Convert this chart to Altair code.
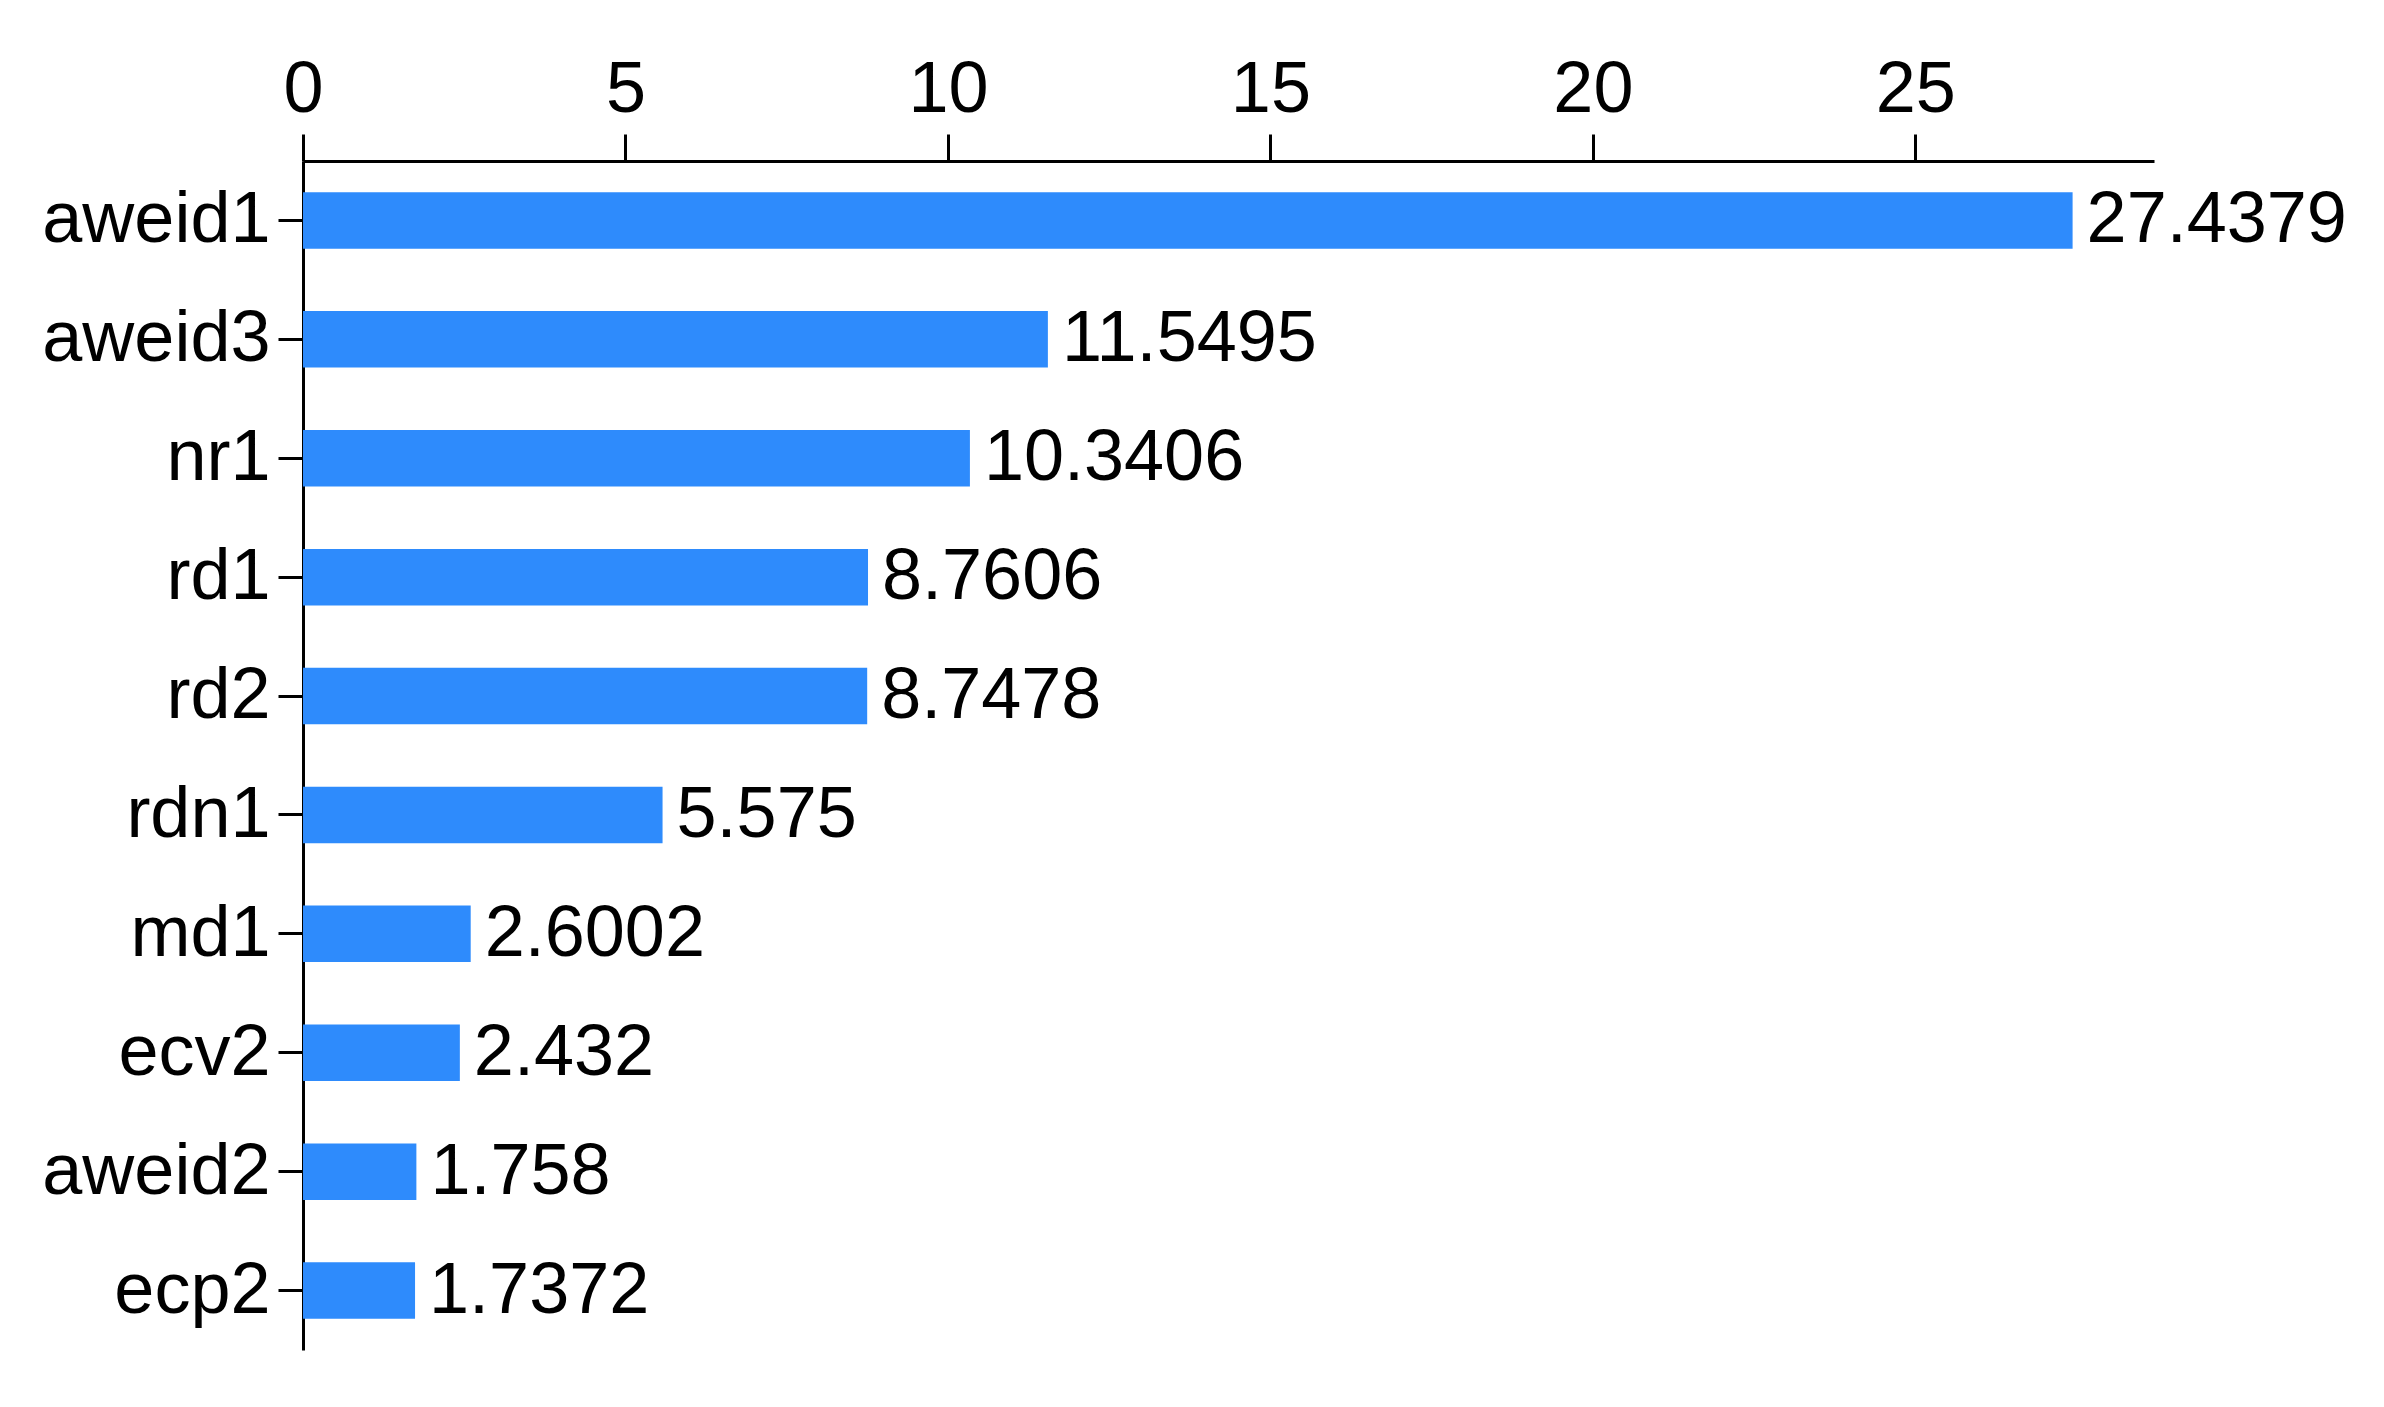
import altair as alt
import pandas as pd

categories = ["aweid1", "aweid3", "nr1", "rd1", "rd2", "rdn1", "md1", "ecv2", "aweid2", "ecp2"]
values = [27.4379, 11.5495, 10.3406, 8.7606, 8.7478, 5.575, 2.6002, 2.432, 1.758, 1.7372]
value_labels = ["27.4379", "11.5495", "10.3406", "8.7606", "8.7478", "5.575", "2.6002", "2.432", "1.758", "1.7372"]
tick_values = [0, 5, 10, 15, 20, 25]

df = pd.DataFrame({"cat": categories, "val": values, "label": value_labels})

FONT = "Liberation Sans"
FS = 72

x_enc = alt.X(
    "val:Q",
    scale=alt.Scale(domain=[0, 28.7], nice=False, zero=True),
    axis=alt.Axis(
        orient="top", values=tick_values, title=None, grid=False, format="d",
        tickSize=27, tickWidth=3, tickColor="black",
        domainWidth=3, domainColor="black",
        labelFont=FONT, labelFontSize=FS, labelColor="black", labelPadding=8,
        labelFlush=False,
    ),
)
y_enc = alt.Y(
    "cat:N",
    sort=categories,
    scale=alt.Scale(paddingInner=0.525, paddingOuter=0.2625),
    axis=alt.Axis(
        title=None, grid=False,
        tickSize=25, tickWidth=3, tickColor="black",
        domainWidth=3, domainColor="black",
        labelFont=FONT, labelFontSize=FS, labelColor="black", labelPadding=8,
        labelLimit=0,
    ),
)

bars = alt.Chart(df).mark_bar(color="#2E8BFC").encode(x=x_enc, y=y_enc)
text = alt.Chart(df).mark_text(
    align="left", baseline="middle", dx=14, fontSize=FS, font=FONT, color="black"
).encode(
    x=alt.X("val:Q"),
    y=alt.Y("cat:N", sort=categories),
    text="label:N",
)

chart = (
    alt.layer(bars, text)
    .properties(
        width=1851, height=1189,
        padding={"left": 33, "top": 45, "right": 10, "bottom": 10},
        view=alt.ViewBackground(stroke="transparent", strokeWidth=0),
    )
    .configure_view(strokeWidth=0, stroke="transparent")
    .configure(background="white")
)

chart.save("out.html", embed_options={"renderer": "svg", "actions": False})
